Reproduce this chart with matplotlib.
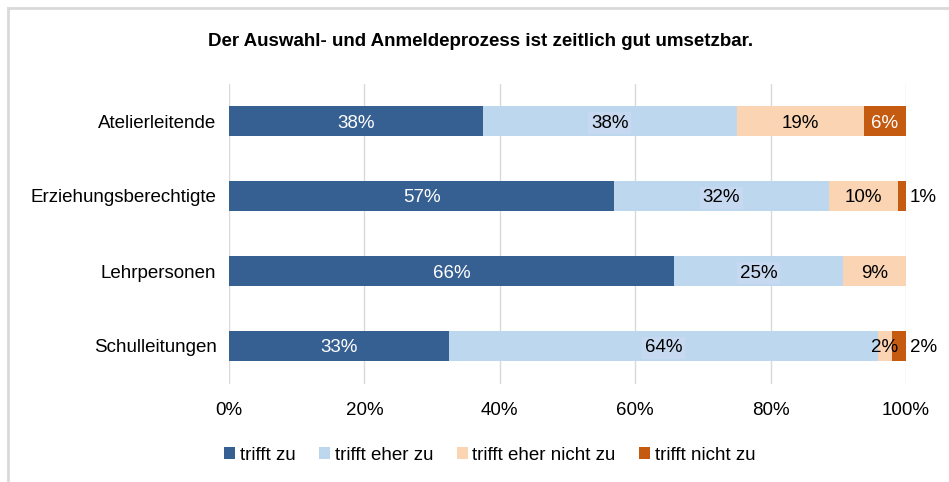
import matplotlib
matplotlib.use("Agg")
import matplotlib.pyplot as plt
from matplotlib.lines import Line2D

plt.rcParams['font.family'] = ['Liberation Sans', 'DejaVu Sans']

title = "Der Auswahl- und Anmeldeprozess ist zeitlich gut umsetzbar."
groups = ["Atelierleitende", "Erziehungsberechtigte", "Lehrpersonen", "Schulleitungen"]
series = ["trifft zu", "trifft eher zu", "trifft eher nicht zu", "trifft nicht zu"]
values = [
    [37.5, 56.9, 65.7, 32.5],   # trifft zu
    [37.5, 31.7, 25.0, 63.4],   # trifft eher zu
    [18.75, 10.2, 9.3, 2.0],    # trifft eher nicht zu
    [6.25, 1.2, 0.0, 2.1],      # trifft nicht zu
]
labels = [
    ["38%", "57%", "66%", "33%"],
    ["38%", "32%", "25%", "64%"],
    ["19%", "10%", "9%", "2%"],
    ["6%", "1%", "", "2%"],
]
colors = ["#376092", "#bdd7ee", "#fbd4b4", "#c55a11"]
text_colors = ["white", "black", "black", "white"]

FS = 13.5

fig = plt.figure(figsize=(9.49, 4.82), dpi=100)
ax = fig.add_axes([229/949, 1 - 383.5/482, 677/949, 300/482])

# outer chart frame (light gray)
fig.add_artist(Line2D([8/949, 8/949], [0, 1 - 8/482], color="#d9d9d9", lw=2))
fig.add_artist(Line2D([8/949, 1], [1 - 8/482, 1 - 8/482], color="#d9d9d9", lw=2))

y = list(range(len(groups)))
left = [0.0] * len(groups)
for s, name in enumerate(series):
    ax.barh(y, values[s], left=left, height=0.4, color=colors[s], label=name, zorder=3)
    for i in y:
        v = values[s][i]
        if labels[s][i] == "":
            continue
        if s == 3 and v < 3:
            # small segment: label outside right
            ax.text(left[i] + v + 0.6, i, labels[s][i], ha="left", va="center_baseline",
                    fontsize=FS, color="black", zorder=5)
        else:
            bbox = None
            if s == 1:
                bbox = dict(boxstyle="square,pad=0.15", facecolor="#c6d9f0", edgecolor="none")
            ax.text(left[i] + v / 2, i, labels[s][i], ha="center", va="center_baseline",
                    fontsize=FS, color=text_colors[s], bbox=bbox, zorder=5)
        left[i] += v

ax.set_xlim(0, 100)
ax.set_ylim(3.5, -0.5)
ax.set_yticks(y)
ax.set_yticklabels(groups, fontsize=FS)
ax.set_xticks([0, 20, 40, 60, 80, 100])
ax.set_xticklabels(["0%", "20%", "40%", "60%", "80%", "100%"], fontsize=FS)
ax.tick_params(length=0)
ax.tick_params(axis="x", pad=13)
ax.tick_params(axis="y", pad=9)
ax.grid(axis="x", color="#d9d9d9", lw=1, zorder=0)
for sp in ax.spines.values():
    sp.set_visible(False)

fig.text(0.5 + 0.006, 1 - 42/482, title, ha="center", va="center",
         fontsize=FS, fontweight="bold")

fig.legend(loc="center", bbox_to_anchor=(0.516, 1 - 455/482), ncol=4, frameon=False,
           fontsize=FS, handlelength=0.6, handleheight=0.6, handletextpad=0.25,
           columnspacing=1.25)

plt.savefig("out.png", dpi=100)
